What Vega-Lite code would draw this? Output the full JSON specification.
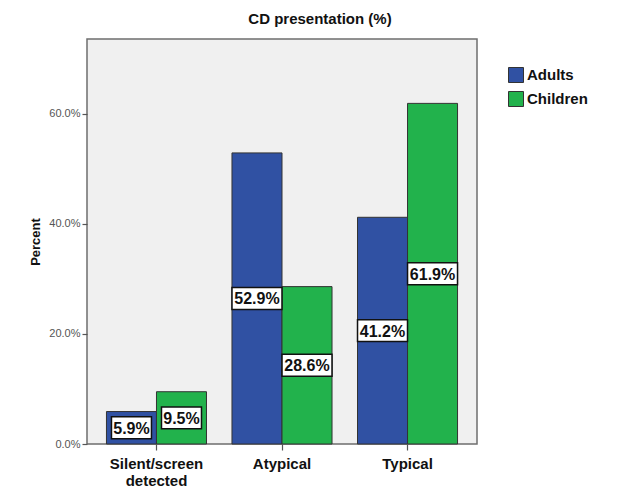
{
  "$schema": "https://vega.github.io/schema/vega-lite/v6.json",
  "width": 390,
  "height": 405,
  "autosize": {"type": "none"},
  "padding": {"left": 87, "top": 39, "right": 164, "bottom": 57},
  "background": "white",
  "title": {
    "text": "CD presentation (%)",
    "fontSize": 15,
    "fontWeight": "bold",
    "font": "Liberation Sans",
    "color": "#111",
    "anchor": "middle",
    "dx": 38,
    "offset": 12
  },
  "data": {
    "values": [
      {"category": "Silent/screen detected", "group": "Adults", "value": 5.9},
      {"category": "Silent/screen detected", "group": "Children", "value": 9.5},
      {"category": "Atypical", "group": "Adults", "value": 52.9},
      {"category": "Atypical", "group": "Children", "value": 28.6},
      {"category": "Typical", "group": "Adults", "value": 41.2},
      {"category": "Typical", "group": "Children", "value": 61.9}
    ]
  },
  "transform": [
    {"calculate": "datum.value / 2", "as": "mid"},
    {"calculate": "format(datum.value, '.1f') + '%'", "as": "label"}
  ],
  "encoding": {
    "x": {
      "field": "category",
      "type": "nominal",
      "sort": ["Silent/screen detected", "Atypical", "Typical"],
      "scale": {"paddingInner": 0.203, "paddingOuter": 0.155},
      "axis": {
        "title": null,
        "labelAngle": 0,
        "labelFontSize": 15,
        "labelFontWeight": "bold",
        "labelColor": "#111",
        "labelPadding": 6,
        "labelLineHeight": 17,
        "labelExpr": "datum.value == 'Silent/screen detected' ? ['Silent/screen', 'detected'] : datum.value",
        "tickSize": 6,
        "tickColor": "#555",
        "tickWidth": 1.2,
        "domain": false
      }
    },
    "xOffset": {
      "field": "group",
      "type": "nominal",
      "scale": {"paddingInner": 0, "paddingOuter": 0}
    }
  },
  "layer": [
    {
      "mark": {"type": "bar", "stroke": "#333", "strokeWidth": 1},
      "encoding": {
        "y": {
          "field": "value",
          "type": "quantitative",
          "scale": {"domain": [0, 73.6], "nice": false},
          "axis": {
            "values": [0, 20, 40, 60],
            "labelExpr": "format(datum.value, '.1f') + '%'",
            "labelFontSize": 11,
            "labelColor": "#555",
            "labelPadding": 2,
            "tickSize": 5,
            "tickColor": "#555",
            "tickWidth": 1.2,
            "domain": false,
            "grid": false,
            "title": "Percent",
            "titleFontSize": 13,
            "titleFontWeight": "bold",
            "titleColor": "#111",
            "titlePadding": 6
          }
        },
        "color": {
          "field": "group",
          "type": "nominal",
          "scale": {"domain": ["Adults", "Children"], "range": ["#3051a3", "#22b24c"]},
          "legend": {
            "title": null,
            "orient": "none",
            "legendX": 421,
            "legendY": 28,
            "symbolType": "square",
            "symbolSize": 225,
            "symbolStrokeColor": "#333",
            "symbolStrokeWidth": 1,
            "symbolOpacity": 1,
            "labelFontSize": 15,
            "labelFontWeight": "bold",
            "labelColor": "#111",
            "labelOffset": 3,
            "rowPadding": 4,
            "padding": 0
          }
        }
      }
    },
    {
      "mark": {"type": "point", "filled": true, "fill": "white", "stroke": "#111", "strokeWidth": 1.5, "opacity": 1, "size": 2601},
      "encoding": {
        "y": {"field": "mid", "type": "quantitative"},
        "shape": {
          "condition": {"test": "datum.value < 10", "value": "M-0.784,-0.43L0.784,-0.43L0.784,0.43L-0.784,0.43Z"},
          "value": "M-0.98,-0.43L0.98,-0.43L0.98,0.43L-0.98,0.43Z"
        }
      }
    },
    {
      "mark": {"type": "text", "fontSize": 16, "fontWeight": "bold", "color": "#111", "align": "center", "baseline": "middle", "dy": 1},
      "encoding": {
        "y": {"field": "mid", "type": "quantitative"},
        "text": {"field": "label"}
      }
    }
  ],
  "config": {
    "font": "Liberation Sans",
    "view": {"fill": "#f0f0f0", "stroke": "#6e6e6e", "strokeWidth": 1.5}
  }
}
